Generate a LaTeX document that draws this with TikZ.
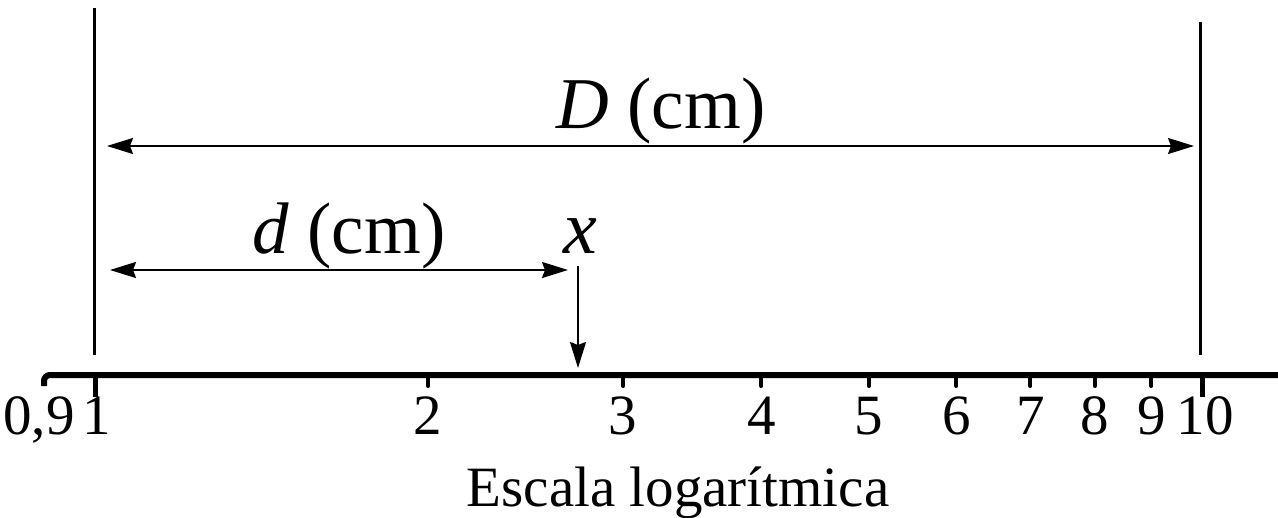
\documentclass[tikz,border=0pt]{standalone}
\usepackage{fontspec}
\setmainfont{Liberation Serif}
\usetikzlibrary{arrows.meta}
\begin{document}
\begin{tikzpicture}[x=0.5pt,y=-0.5pt,
  guide/.style={line width=1.5pt},
  dim/.style={line width=1pt,{Stealth[length=13pt,width=8pt,inset=1.5pt]}-{Stealth[length=13pt,width=8pt,inset=1.5pt]}},
  ptr/.style={line width=1pt,-{Stealth[length=13pt,width=8pt,inset=1.5pt]}},
  axis/.style={line width=3pt},
  tickmark/.style={line width=2pt,line cap=round},
  ticklbl/.style={font=\fontsize{28.5pt}{32pt}\selectfont,anchor=base,inner sep=0pt},
  biglbl/.style={font=\fontsize{36.5pt}{40pt}\selectfont,anchor=base,inner sep=0pt}]
\useasboundingbox (0,0) rectangle (1278,518);
% vertical guide lines
\coordinate (Ltop) at (94,8);
\coordinate (Lbot) at (94,355);
\coordinate (Rtop) at (1200,22);
\coordinate (Rbot) at (1200,355);
\draw[guide] (Ltop) -- (Lbot);
\draw[guide] (Rtop) -- (Rbot);
% axis
\coordinate (A0) at (44,386);
\coordinate (A1) at (1278,375);
\draw[axis,rounded corners=3pt] (A0) -- (44,375) -- (A1);
% ticks
\foreach \v in {2,...,9} {
  \pgfmathsetmacro{\xx}{95+1107*log10(\v)}
  \draw[tickmark] (\xx,376) -- (\xx,386);
  \node[ticklbl] at (\xx,434) {\v};
}
\draw[line width=2.5pt] (95,376) -- (95,397);
\draw[line width=2.5pt] (1202,376) -- (1202,397);
\node[ticklbl] at (39,434) {0,9};
\node[ticklbl] at (97,434) {1};
\node[ticklbl] at (1205,434) {10};
% dimension arrows
\coordinate (D1) at (107,146);
\coordinate (D2) at (1194,146);
\draw[dim] (D1) -- (D2);
\node[biglbl] (Dl) at (661,129) {\textit{D} (cm)};
\coordinate (d1) at (110,270);
\coordinate (d2) at (568,270);
\draw[dim] (d1) -- (d2);
\node[biglbl] (dl) at (349,253) {\textit{d} (cm)};
\node[biglbl,font=\fontsize{38pt}{42pt}\selectfont] (xl) at (580,253) {\textit{x}};
\coordinate (x1) at (578,266);
\coordinate (x2) at (578,368);
\draw[ptr] (x1) -- (x2);
\node[ticklbl] (esc) at (678,506) {Escala logarítmica};
\end{tikzpicture}
\end{document}
